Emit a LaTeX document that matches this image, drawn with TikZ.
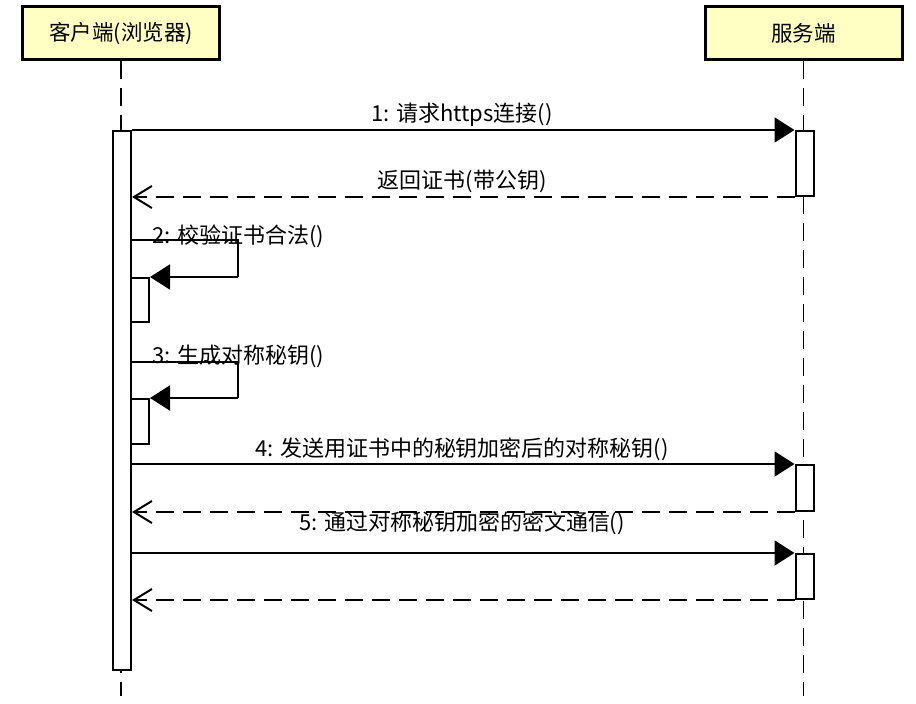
\documentclass[tikz,border=0pt]{standalone}
\usepackage{fontspec}
\setmainfont{Noto Sans CJK SC}
\usetikzlibrary{arrows.meta}
\definecolor{actorfill}{RGB}{255,255,195}
\begin{document}
\begin{tikzpicture}[x=1pt,y=-1pt,
  actor/.style={draw=black, line width=3pt, fill=actorfill, minimum width=197pt, minimum height=53pt, inner sep=0pt, font=\fontsize{21.5}{25}\selectfont},
  lifeline/.style={line width=1.5pt, dash pattern=on 18pt off 9pt},
  bar/.style={draw=black, line width=2pt, fill=white, minimum width=18pt, inner sep=0pt, anchor=north west},
  msg/.style={line width=2pt, -{Triangle[length=20pt,width=25pt]}},
  ret/.style={line width=2pt, dash pattern=on 18pt off 9pt, -{Straight Barb[length=18pt,width=22pt,line width=2pt]}},
  lbl/.style={inner sep=0pt, font=\fontsize{22}{26}\selectfont}]
\useasboundingbox (0,0) rectangle (916,704);
% actors
\node[actor] (cl) at (121,33) {客户端(浏览器)};
\node[actor] (sv) at (803.5,33) {服务端};
% lifelines
\coordinate (clend) at (121,696);
\coordinate (svend) at (803.5,696);
\draw[lifeline] (cl.south) -- (clend);
\draw[lifeline] (sv.south) -- (svend);
% activation bars
\node[bar, minimum height=539pt] (ca) at (112,130) {};
\node[bar, minimum height=65pt] (sa1) at (794.5,130) {};
\node[bar, minimum height=44pt] (cb1) at (130,277) {};
\node[bar, minimum height=45pt] (cb2) at (130,398) {};
\node[bar, minimum height=46pt] (sa2) at (794.5,464) {};
\node[bar, minimum height=45pt] (sa3) at (794.5,553) {};
% message 1
\draw[msg] (ca.north east) -- (sa1.north west);
\node[lbl] (l1) at (462,115) {1: 请求https连接()};
% return 1
\draw[ret] (sa1.south west) -- (ca.east |- sa1.south west);
\node[lbl] (r1) at (462,181) {返回证书(带公钥)};
% self message 2
\coordinate (s2a) at (130,240);
\coordinate (s2b) at (238,240);
\coordinate (s2c) at (238,277);
\draw[line width=2pt] (s2a) -- (s2b) -- (s2c);
\draw[msg] (s2c) -- (cb1.north east);
\node[lbl, anchor=west] (l2) at (152,236) {2: 校验证书合法()};
% self message 3
\coordinate (s3a) at (130,362);
\coordinate (s3b) at (238,362);
\coordinate (s3c) at (238,398);
\draw[line width=2pt] (s3a) -- (s3b) -- (s3c);
\draw[msg] (s3c) -- (cb2.north east);
\node[lbl, anchor=west] (l3) at (152,356) {3: 生成对称秘钥()};
% message 4
\draw[msg] (ca.east |- sa2.north west) -- (sa2.north west);
\node[lbl] (l4) at (462,449) {4: 发送用证书中的秘钥加密后的对称秘钥()};
\draw[ret] (sa2.south west) -- (ca.east |- sa2.south west);
% message 5
\draw[msg] (ca.east |- sa3.north west) -- (sa3.north west);
\node[lbl] (l5) at (462,523) {5: 通过对称秘钥加密的密文通信()};
\draw[ret] (sa3.south west) -- (ca.east |- sa3.south west);
\end{tikzpicture}
\end{document}
